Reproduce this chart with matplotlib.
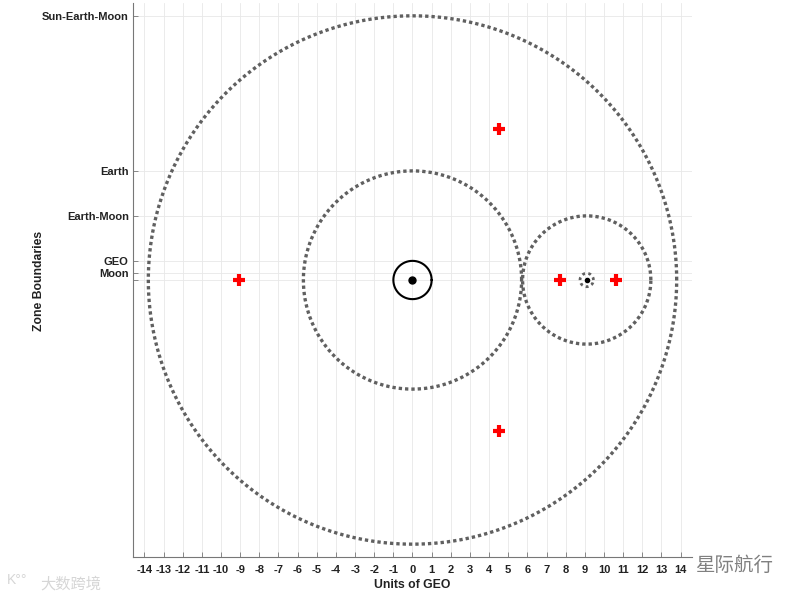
import numpy as np
import matplotlib
matplotlib.use('Agg')
import matplotlib.pyplot as plt

plt.rcParams['font.family'] = ['Liberation Sans', 'Noto Sans CJK SC', 'DejaVu Sans']
plt.rcParams['axes.unicode_minus'] = False

# zone boundaries (units of GEO)
zone_names = ['', 'Moon', 'GEO', 'Earth-Moon', 'Earth', 'Sun-Earth-Moon']
zone_radii = [0.0, 0.35, 1.0, 3.35, 5.7, 13.8]

moon_x = 9.1

# Lagrange points of the Earth-Moon system
lag_x = [7.7, 10.62, -9.07, 4.52, 4.52]
lag_y = [0.0, 0.0, 0.0, 7.89, -7.89]

x_ticks = list(range(-14, 15))

fig = plt.figure(figsize=(8, 6), dpi=100)
ax = fig.add_axes([133/800, 1 - 557/600, 559/800, 554/600])

t = np.linspace(0, 2*np.pi, 721)
dot = dict(color='#606060', lw=2.4, linestyle=(0, (1, 0.9)))

# Sun-Earth-Moon and Earth zones, centred on the Earth
ax.plot(zone_radii[5]*np.cos(t), zone_radii[5]*np.sin(t), **dot)
ax.plot(zone_radii[4]*np.cos(t), zone_radii[4]*np.sin(t), **dot)
# Earth-Moon and Moon zones, centred on the Moon
ax.plot(moon_x + zone_radii[3]*np.cos(t), zone_radii[3]*np.sin(t), **dot)
ax.plot(moon_x + zone_radii[1]*np.cos(t), zone_radii[1]*np.sin(t),
        color='#606060', lw=2.0, linestyle=(0, (1, 1.2)))

# GEO ring and Earth
ax.plot(zone_radii[2]*np.cos(t), zone_radii[2]*np.sin(t), color='black', lw=1.5)
ax.plot([0], [0], 'o', color='black', ms=5)
ax.plot([moon_x], [0], 'o', color='black', ms=3)

# Lagrange points
ax.plot(lag_x, lag_y, '+', color='red', ms=8, mew=3, linestyle='none')

ax.set_xlim(-14.6, 14.6)
ax.set_ylim(-14.47, 14.47)
ax.set_xticks(x_ticks)
ax.set_yticks(zone_radii)
ax.set_yticklabels(zone_names)
ax.grid(True, color='#e8e8e8', lw=0.6)
ax.set_axisbelow(True)

for s in ['top', 'right']:
    ax.spines[s].set_visible(False)
for s in ['left', 'bottom']:
    ax.spines[s].set_color('#777777')
    ax.spines[s].set_linewidth(0.8)

ax.tick_params(direction='in', length=3.5, width=0.6, color='#777777',
               labelsize=8, labelcolor='#222222')
ax.tick_params(axis='x', pad=6)
ax.tick_params(axis='y', pad=3)
for lab in ax.get_xticklabels() + ax.get_yticklabels():
    lab.set_fontweight('bold')

ax.set_xlabel('Units of GEO', fontsize=8.8, fontweight='bold', color='#222222')
ax.set_ylabel('Zone Boundaries', fontsize=8.8, fontweight='bold', color='#222222')
ax.xaxis.set_label_coords(0.499, -0.04)
ax.yaxis.set_label_coords(-0.158, 0.498)
ax.xaxis.label.set_va('top')

# watermarks
fig.text(7/800, 1 - 580/600, 'K°°', fontsize=10, color='#d6d6d6', va='center')
fig.text(40/800, 1 - 584/600, '大数跨境', fontsize=11, color='#d6d6d6', va='center')
fig.text(695/800, 1 - 566/600, '星际航行', fontsize=14, color='#808080', va='center')

fig.savefig('out.png', dpi=100)
